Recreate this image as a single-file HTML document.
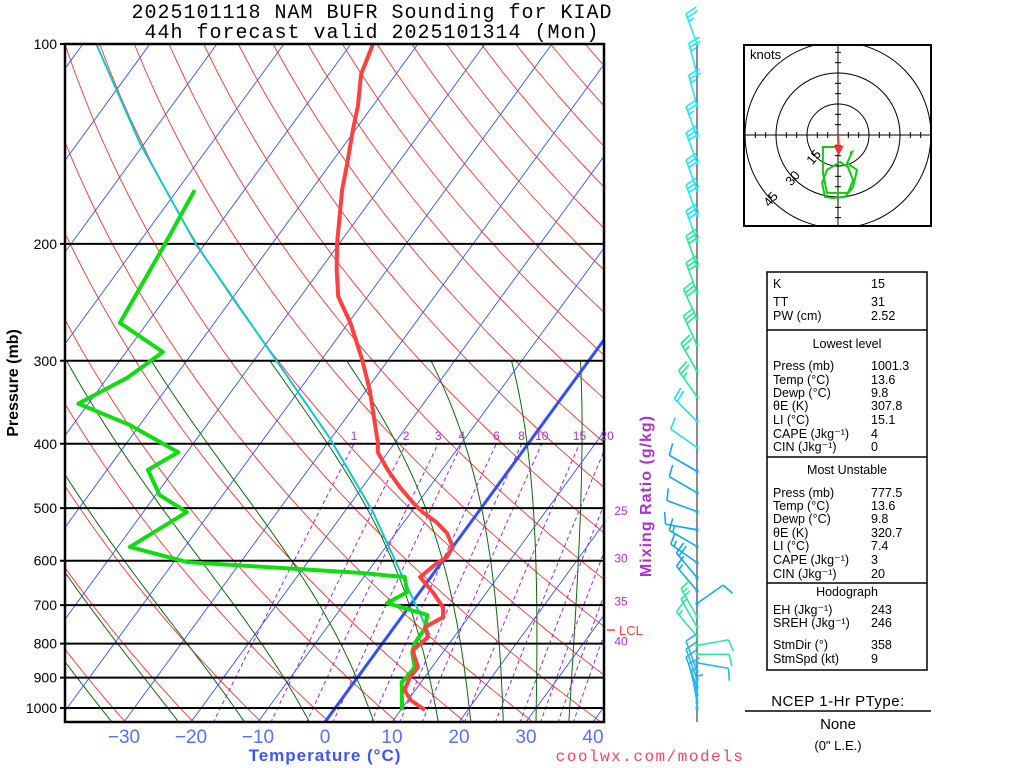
<!DOCTYPE html>
<html><head><meta charset="utf-8"><style>
body{margin:0;background:#fff;}
svg{display:block;font-family:"Liberation Sans",sans-serif;}
</style></head><body>
<svg id="c" width="1024" height="768" viewBox="0 0 1024 768" xmlns="http://www.w3.org/2000/svg">
<defs><clipPath id="plotclip"><rect x="65" y="44" width="539" height="678"/></clipPath>
<clipPath id="hodoclip"><rect x="744" y="45" width="187" height="181"/></clipPath></defs>
<g font-family="Liberation Mono, monospace" font-size="20" letter-spacing="1" text-anchor="middle" fill="#000">
<text x="372" y="18">2025101118 NAM BUFR Sounding for KIAD</text>
<text x="372" y="38">44h forecast valid 2025101314 (Mon)</text>
</g>
<g id="bg" clip-path="url(#plotclip)"></g>
<g id="isobars"></g>
<g id="series" clip-path="url(#plotclip)"></g>
<rect x="65" y="44" width="539" height="678" fill="none" stroke="#000" stroke-width="2.5"/>
<g id="labels"></g>
<text x="18" y="383" transform="rotate(-90 18 383)" text-anchor="middle" font-size="16" font-weight="bold">Pressure (mb)</text>
<text x="325" y="761" text-anchor="middle" font-size="17" font-weight="bold" fill="#3b55ff" letter-spacing="1">Temperature (°C)</text>
<text x="650" y="761" text-anchor="middle" font-size="16" fill="#ff4060" letter-spacing="1.5" font-family="Liberation Mono, monospace">coolwx.com/models</text>
<text x="651" y="496" transform="rotate(-90 651 496)" text-anchor="middle" font-size="16" font-weight="bold" fill="#b030d0" letter-spacing="1">Mixing Ratio (g/kg)</text>
<g id="lcl"></g>
<g id="winds"></g>
<g id="hodo"></g>
<g id="panel" font-size="12.5" fill="#000"></g>
</svg>
<script>
// ---- data ----
const tempP=[1007,973,940,898,868,838,818,782,755,730,705,671,635,605,593,572,545,526,507,491,465,438,412,399,332,299,263,240,219,200,166,151,135,124,111,100];
const tempC=[13.6,10.4,8.4,7.8,7.9,6.3,5.3,6.1,4.6,6.2,5.1,2.1,-1.6,-0.6,0.2,0,-2.4,-5.0,-8.3,-10.7,-14.4,-18.1,-21.5,-22.5,-29.5,-33.9,-39.7,-44.4,-47.5,-50.3,-55.4,-57.6,-60.3,-62.2,-65.2,-66.7];
const dewP=[1007,914,898,868,824,798,758,724,695,669,635,626,603,572,507,478,438,412,375,348,318,291,263,202,182,166];
const dewC=[10.2,7.1,7.3,7.4,5.4,4.8,4.7,3.6,-3.7,-1.9,-3.9,-11.0,-38.0,-48.2,-43.5,-49.4,-53.9,-51.3,-61.4,-71.5,-67.0,-64.5,-74.1,-75.9,-76.7,-77.4];
const parcelP=[777,635,508,391,332,201,141,100];
const parcelC=[6.2,-4.2,-15.6,-30.4,-40.4,-71.1,-90.7,-108];
const isobarLevels=[100,200,300,400,500,600,700,800,900,1000];
const tempTicks=[-30,-20,-10,0,10,20,30,40];
const mixRatios=[1,2,3,4,6,8,10,15,20,25,30,35,40];
const windP=[100,111,124,138,151,166,181,198,216,237,259,284,311,340,370,405,440,474,506,539,571,604,636,666,696,728,755,780,805,830,855,880,905,930,955,980,1001];
const windDir=[340,345,345,340,340,340,340,340,340,340,335,335,330,325,315,305,300,300,290,280,300,305,320,320,55,330,330,320,80,90,100,340,340,340,345,350,0];
const windSpd=[25,25,25,25,30,30,30,30,30,30,30,30,25,25,20,10,10,10,10,10,15,15,20,15,10,15,15,15,10,10,10,10,10,10,10,5,5];
const hodoU=[5.8,6.8,4.4,9.2,7.3,3.4,-2.4,-6.3,-7.7,-5.3,1,4.8,7.3,4.8,-5.3,-7.3,-7.3,-1.5];
const hodoV=[-8.7,-8.2,-13.6,-16.9,-25.2,-30,-30.5,-30,-23.2,-16.9,-13,-15.5,-21.8,-28,-28,-18.4,-5.8,-5.8];
const stormDir=358, stormSpd=9;

const NS='http://www.w3.org/2000/svg';
function mk(tag,attrs,parent){const e=document.createElementNS(NS,tag);for(const k in attrs)e.setAttribute(k,attrs[k]);parent.appendChild(e);return e;}
function yP(p){return 44+664*Math.log10(p/100);}
function xT(T,p){return 325+6.7*T+0.73*(722-yP(p));}
function pts(ps,ts){return ps.map((p,i)=>xT(ts[i],p).toFixed(1)+','+yP(p).toFixed(1)).join(' ');}
const bg=document.getElementById('bg');
for(let th=230;th<=480;th+=10){const ps=[],ts=[];for(let p=1050;p>=100;p-=10){ps.push(p);ts.push(th*Math.pow(p/1000,0.286)-273.15);}
 const e=mk('polyline',{points:pts(ps,ts),fill:'none',stroke:'#ff3030','stroke-width':0.9},bg);
 
 }
function es(T){return 6.112*Math.exp(17.67*(T-273.15)/(T-29.65));}
function dTdp(T,p){const rs=0.622*es(T)/(p-es(T));return (287*T+2.5e6*rs)/(p*(1004+2.5e6*2.5e6*rs*0.622/(287*T*T)));}
[-35,-25,-15,-5,5,15,20,25,30,35].forEach(t0=>{
 let T=t0+273.15;const up=[],ut=[];for(let p=1000;p>=300;p-=5){up.push(p);ut.push(T-273.15);T-=dTdp(T,p)*5;}
 T=t0+273.15;const dp=[],dt=[];for(let p=1000;p<=1055;p+=5){dp.unshift(p);dt.unshift(T-273.15);T+=dTdp(T,p)*5;}
 const e=mk('polyline',{points:pts(dp.concat(up),dt.concat(ut)),fill:'none',stroke:'#0a6a0a','stroke-width':1},bg);
 
 });
for(let t=-120;t<=40;t+=10){const e=mk('line',{x1:xT(t,1053),y1:yP(1053),x2:xT(t,100),y2:yP(100),stroke:'#3050ff','stroke-width':t===0?3:0.9},bg);
 
 }
function tdW(w,p){const e=w*p/(622+w);const l=Math.log(e/6.112);return 243.5*l/(17.67-l)+1.7*Math.log(1000/p);}
const lab=document.getElementById('labels');
mixRatios.forEach((w,i)=>{const ps=[],ts=[];for(let p=1053;p>=400;p-=10){ps.push(p);ts.push(tdW(w,p));}ps.push(400);ts.push(tdW(w,400));
 const e=mk('polyline',{points:pts(ps,ts),fill:'none',stroke:'#a020f0','stroke-width':1,'stroke-dasharray':'4,3'},bg);
 
 
 let lx=xT(tdW(w,400),400),ly=yP(400)-4,anchor='middle';
 if(lx>612){for(let p=400;p<=1053;p+=1){if(xT(tdW(w,p),p)<=604){ly=yP(p)+10;break;}}lx=621;}
 const t=mk('text',{x:lx,y:ly,'text-anchor':anchor,'font-size':12,fill:'#b030d0'},lab);t.textContent=w;
 
 });
const iso=document.getElementById('isobars');
isobarLevels.forEach(p=>{const e=mk('line',{x1:60,y1:yP(p),x2:604,y2:yP(p),stroke:'#000','stroke-width':2},iso);
 
 
 const t=mk('text',{x:57,y:yP(p)+5,'text-anchor':'end','font-size':14},lab);t.textContent=p;
 
 });
tempTicks.forEach(t=>{const tx=mk('text',{x:325+6.7*t,y:743,'text-anchor':'middle','font-size':19,fill:'#5570ff'},lab);tx.textContent=(t<0?'\u2212':'')+Math.abs(t);
 
 });
const S=document.getElementById('series');
let e=mk('polyline',{points:pts(parcelP,parcelC),fill:'none',stroke:'#10c8d0','stroke-width':2},S);


e=mk('polyline',{points:pts(dewP,dewC),fill:'none',stroke:'#10dd10','stroke-width':4,'stroke-linejoin':'round'},S);


e=mk('polyline',{points:pts(tempP,tempC),fill:'none',stroke:'#ff4040','stroke-width':4,'stroke-linejoin':'round'},S);


const L=document.getElementById('lcl');
e=mk('line',{x1:607,y1:630,x2:615,y2:630,stroke:'#ff4040','stroke-width':1.5},L);


e=mk('text',{x:619,y:635,'font-size':13,fill:'#ff4040'},L);e.textContent='LCL';


const W=document.getElementById('winds');
e=mk('line',{x1:697,y1:44,x2:697,y2:722,stroke:'#666','stroke-width':1.5},W);


function wcol(p){if(p<200)return '#20e8ff';if(p<370)return '#20f090';if(p<420)return '#20e0f0';if(p<700)return '#10a8f0';if(p<850)return '#30e8a0';return '#20b8f0';}
windP.forEach((p,i)=>{const y=yP(p),x=697,d=windDir[i]*Math.PI/180;const dx=Math.sin(d),dy=-Math.cos(d);const Ls=32;
 const tx=x+dx*Ls,ty=y+dy*Ls;const px=-dy,py=dx;const c=wcol(p);
 const g=mk('g',{stroke:c,'stroke-width':1.6,fill:'none'},W);
 
 
 mk('line',{x1:x,y1:y,x2:tx,y2:ty},g);
 let s=windSpd[i],k=0;
 while(s>=10){const bx=tx-dx*k*4,by=ty-dy*k*4;mk('line',{x1:bx,y1:by,x2:bx+px*12+dx*3,y2:by+py*12+dy*3},g);s-=10;k++;}
 if(s>=5){const bx=tx-dx*k*4,by=ty-dy*k*4;mk('line',{x1:bx,y1:by,x2:bx+px*6+dx*1.5,y2:by+py*6+dy*1.5},g);}
 mk('rect',{x:x-1.5,y:y-1.5,width:3,height:3,fill:c,stroke:'none'},g);});
const H=document.getElementById('hodo');const hx=838,hy=135,kp=31/15;
e=mk('rect',{x:744,y:45,width:187,height:181,fill:'#fff',stroke:'#000','stroke-width':2},H);


const HG=mk('g',{'clip-path':'url(#hodoclip)'},H);
[15,30,45].forEach(r=>{const c=mk('circle',{cx:hx,cy:hy,r:r*kp,fill:'none',stroke:'#000','stroke-width':1},HG);
 
 });
mk('line',{x1:744,y1:hy,x2:931,y2:hy,stroke:'#000','stroke-width':1},HG);
mk('line',{x1:hx,y1:45,x2:hx,y2:226,stroke:'#000','stroke-width':1},HG);
for(let k=-45;k<=45;k+=5){if(k===0)continue;mk('line',{x1:hx+k*kp,y1:hy-3,x2:hx+k*kp,y2:hy+3,stroke:'#000'},HG);mk('line',{x1:hx-3,y1:hy+k*kp,x2:hx+3,y2:hy+k*kp,stroke:'#000'},HG);}
e=mk('polyline',{points:hodoU.map((u,i)=>(hx+u*kp).toFixed(1)+','+(hy-hodoV[i]*kp).toFixed(1)).join(' '),fill:'none',stroke:'#10cc10','stroke-width':2},HG);


const sd=stormDir*Math.PI/180,su=-stormSpd*Math.sin(sd),sv=-stormSpd*Math.cos(sd);
e=mk('line',{x1:hx,y1:hy,x2:hx+su*kp,y2:hy-sv*kp,stroke:'#ff3030','stroke-width':2},HG);


mk('polygon',{points:`${hx+su*kp-5},${hy-sv*kp-8} ${hx+su*kp+5},${hy-sv*kp-8} ${hx+su*kp},${hy-sv*kp+2}`,fill:'#ff3030'},HG);
[[15,817,160],[30,796,181],[45,774,202]].forEach(a=>{const t=mk('text',{x:a[1],y:a[2],'font-size':13,transform:`rotate(-50 ${a[1]} ${a[2]})`,'text-anchor':'middle'},HG);t.textContent=a[0];
 
 });
e=mk('text',{x:750,y:59,'font-size':13},H);e.textContent='knots';


const P=document.getElementById('panel');
e=mk('rect',{x:767,y:272,width:160,height:398,fill:'none',stroke:'#000','stroke-width':1.5},P);


[330,457,583].forEach(y=>{mk('line',{x1:767,y1:y,x2:927,y2:y,stroke:'#000','stroke-width':1.5},P);});
const rows=[['K','15',288],['TT','31',306],['PW (cm)','2.52',320],['Press (mb)','1001.3',370],['Temp (°C)','13.6',384],['Dewp (°C)','9.8',397],['θE (K)','307.8',410],['LI (°C)','15.1',424],['CAPE (Jkg⁻¹)','4',438],['CIN (Jkg⁻¹)','0',451],
['Press (mb)','777.5',497],['Temp (°C)','13.6',510],['Dewp (°C)','9.8',523],['θE (K)','320.7',537],['LI (°C)','7.4',550],['CAPE (Jkg⁻¹)','3',564],['CIN (Jkg⁻¹)','20',578],
['EH (Jkg⁻¹)','243',614],['SREH (Jkg⁻¹)','246',627],['StmDir (°)','358',649],['StmSpd (kt)','9',663]];
rows.forEach(r=>{let t=mk('text',{x:773,y:r[2]},P);t.textContent=r[0];
 
 
 t=mk('text',{x:871,y:r[2]},P);t.textContent=r[1];
 
 });
[['Lowest level',348],['Most Unstable',474],['Hodograph',596]].forEach(h=>{const t=mk('text',{x:847,y:h[1],'text-anchor':'middle'},P);t.textContent=h[0];
 
 });
e=mk('text',{x:838,y:706,'text-anchor':'middle','font-size':15,'letter-spacing':'0.5'},P);e.textContent='NCEP 1-Hr PType:';


mk('line',{x1:745,y1:711,x2:931,y2:711,stroke:'#000','stroke-width':1.5},P);
e=mk('text',{x:838,y:729,'text-anchor':'middle','font-size':15},P);e.textContent='None';


e=mk('text',{x:838,y:750,'text-anchor':'middle','font-size':13},P);e.textContent='(0" L.E.)';


</script>
</body></html>
